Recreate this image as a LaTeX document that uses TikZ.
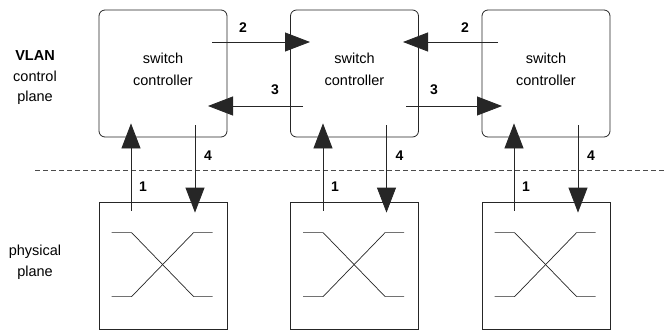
\documentclass[tikz,border=0pt]{standalone}
\usepackage{fontspec}
\setmainfont{Liberation Sans}
\usetikzlibrary{arrows.meta,calc}
\begin{document}
\begin{tikzpicture}[x=1pt,y=-1pt,
  ctrl/.style={draw=black!85,line width=0.8pt,rounded corners=6pt,minimum width=128pt,minimum height=127pt,inner sep=0pt},
  ctext/.style={font=\fontsize{14.5}{21.5}\selectfont,align=center,inner sep=0pt},
  sw/.style={draw=black!85,line width=0.8pt,minimum width=128pt,minimum height=127pt,inner sep=0pt},
  arr/.style={draw=black!85,line width=0.8pt,-{Triangle[length=25pt,width=19pt]}},
  num/.style={font=\fontsize{14}{16}\selectfont\bfseries,inner sep=0pt},
  lbl/.style={font=\fontsize{14.5}{20.5}\selectfont,align=center,inner sep=0pt},
  xline/.style={draw=black!85,line width=0.7pt}]
\useasboundingbox (0,0) rectangle (664,333);
% controllers
\node[ctrl] (c1) at (163,73.5) {};
\node[ctrl] (c2) at (354.5,73.5) {};
\node[ctrl] (c3) at (546,73.5) {};
\node[ctext] (t1) at ($(c1.center)+(0,-4)$) {switch\\controller};
\node[ctext] (t2) at ($(c2.center)+(0,-4)$) {switch\\controller};
\node[ctext] (t3) at ($(c3.center)+(0,-4)$) {switch\\controller};
% switches
\node[sw] (s1) at (163,265.5) {};
\node[sw] (s2) at (354.5,265.5) {};
\node[sw] (s3) at (546,265.5) {};
% crosses
\foreach \s in {s1,s2,s3}{
  \draw[xline] ($(\s.north west)+(13,31)$) -- ($(\s.north west)+(33,31)$) -- ($(\s.north west)+(95,95)$) -- ($(\s.north west)+(114,95)$);
  \draw[xline] ($(\s.north west)+(13,95)$) -- ($(\s.north west)+(33,95)$) -- ($(\s.north west)+(95,31)$) -- ($(\s.north west)+(114,31)$);
}
% plane labels
\node[lbl] (vlan) at (35,78) {\textbf{VLAN}\\control\\plane};
\node[lbl] (phys) at (35,262) {physical\\plane};
% dashed divider
\coordinate (dl) at (35,170);
\coordinate (dr) at (664,170);
\draw[black!70,line width=0.7pt,dash pattern=on 5pt off 3pt] (dl) -- (dr);
% horizontal arrows
\coordinate (a2s) at ($(c1.center)+(49,-31.5)$);
\coordinate (a2e) at ($(c2.center)+(-44.5,-31.5)$);
\coordinate (b2s) at ($(c3.center)+(-48,-31.5)$);
\coordinate (b2e) at ($(c2.center)+(48.5,-31.5)$);
\coordinate (a3s) at ($(c2.center)+(-51.5,32.5)$);
\coordinate (a3e) at ($(c1.center)+(45,32.5)$);
\coordinate (b3s) at ($(c2.center)+(51.5,32.5)$);
\coordinate (b3e) at ($(c3.center)+(-44,32.5)$);
\draw[arr] (a2s) -- (a2e);
\draw[arr] (b2s) -- (b2e);
\draw[arr] (a3s) -- (a3e);
\draw[arr] (b3s) -- (b3e);
\node[num] (n2a) at (243,28) {2};
\node[num] (n2b) at (465,28) {2};
\node[num] (n3a) at (275,90) {3};
\node[num] (n3b) at (434,90) {3};
% vertical arrows
\foreach \i/\dx in {1/0,2/0.5,3/0}{
  \coordinate (u\i s) at ($(s\i.north)+(-32+\dx,9)$);
  \coordinate (u\i e) at ($(c\i.south)+(-32+\dx,-14)$);
  \coordinate (d\i s) at ($(c\i.south)+(32,-12)$);
  \coordinate (d\i e) at ($(s\i.north)+(32,11)$);
  \draw[arr] (u\i s) -- (u\i e);
  \draw[arr] (d\i s) -- (d\i e);
  \node[num] (one\i) at ($(u\i s)+(12,-24)$) {1};
  \node[num] (four\i) at ($(d\i s)+(13,30)$) {4};
}
\end{tikzpicture}
\end{document}
